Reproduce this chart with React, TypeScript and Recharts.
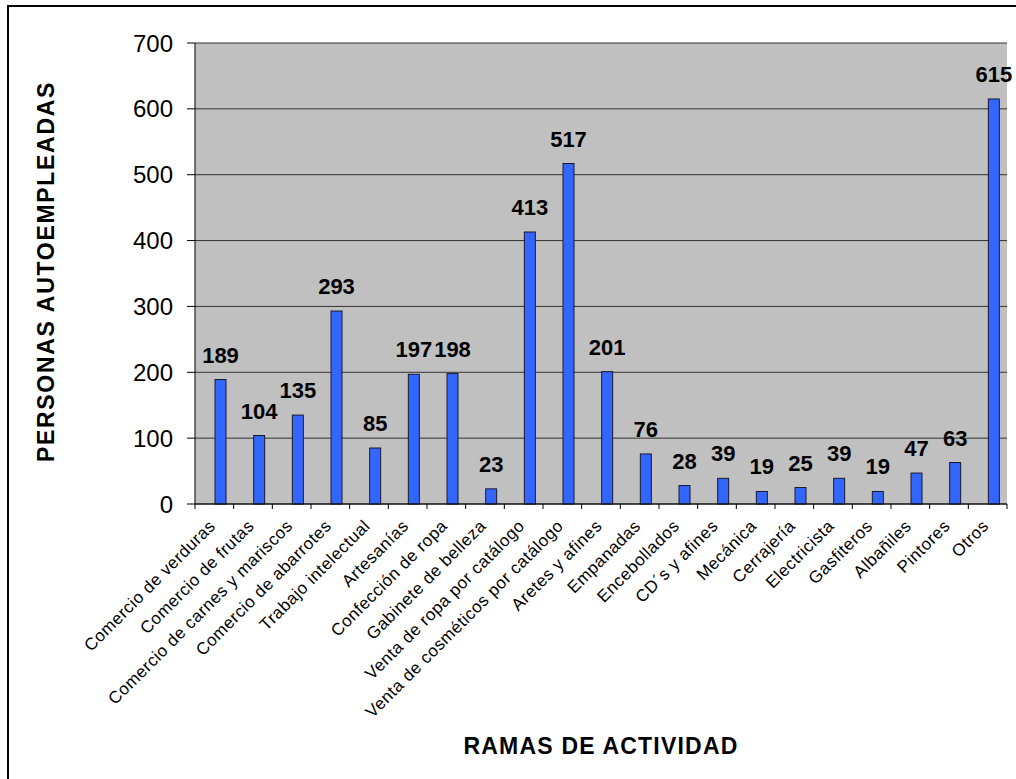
import { BarChart, Bar, XAxis, YAxis, CartesianGrid, LabelList } from 'recharts';

const categories = [
  'Comercio de verduras',
  'Comercio de frutas',
  'Comercio de carnes y mariscos',
  'Comercio de abarrotes',
  'Trabajo intelectual',
  'Artesanías',
  'Confección de ropa',
  'Gabinete de belleza',
  'Venta de ropa por catálogo',
  'Venta de cosméticos por catálogo',
  'Aretes y afines',
  'Empanadas',
  'Encebollados',
  'CD´s y afines',
  'Mecánica',
  'Cerrajería',
  'Electricista',
  'Gasfiteros',
  'Albañiles',
  'Pintores',
  'Otros',
];
const personas = [189, 104, 135, 293, 85, 197, 198, 23, 413, 517, 201, 76, 28, 39, 19, 25, 39, 19, 47, 63, 615];
const yTicks = [0, 100, 200, 300, 400, 500, 600, 700];

const data = categories.map((name, i) => ({ name, value: personas[i] }));

const W = 1016;
const H = 779;
const PLOT_LEFT = 195;
const PLOT_RIGHT = 1007;
const HALF_BAND = (PLOT_RIGHT - PLOT_LEFT) / categories.length / 2;
const BAR_SHIFT = 6;
const FONT = '"Liberation Sans", Arial, sans-serif';

const ShiftedBar = (props: any) => (
  <rect
    x={props.x + BAR_SHIFT}
    y={props.y}
    width={props.width}
    height={props.height}
    fill='#3366FF'
    stroke='#1a1a2e'
    strokeWidth={1}
  />
);

const ValueLabel = (props: any) => (
  <text
    x={props.x + props.width / 2 + BAR_SHIFT}
    y={props.y - 17}
    textAnchor='middle'
    fontSize={22}
    fontWeight='bold'
    fill='#000'
    fontFamily={FONT}
  >
    {props.value}
  </text>
);

const XTick = (props: any) => {
  const { x, y, payload, index } = props;
  const tx = x + 2;
  const ty = y + 23;
  return (
    <g>
      {index === 0 && <line x1={x - HALF_BAND} y1={y} x2={x - HALF_BAND} y2={y + 5} stroke='#000' />}
      <line x1={x + HALF_BAND} y1={y} x2={x + HALF_BAND} y2={y + 5} stroke='#000' />
      <text
        x={tx}
        y={ty}
        transform={`rotate(-45, ${tx}, ${ty})`}
        textAnchor='end'
        fontSize={17}
        letterSpacing={0.5}
        fill='#000'
        fontFamily={FONT}
      >
        {payload.value}
      </text>
    </g>
  );
};

const YTitle = (props: any) => {
  const { y, height } = props.viewBox;
  const cx = 46;
  const cy = y + height / 2 - 2;
  return (
    <text
      x={cx}
      y={cy}
      transform={`rotate(-90, ${cx}, ${cy})`}
      textAnchor='middle'
      dominantBaseline='central'
      fontSize={23}
      fontWeight='bold'
      letterSpacing={1.7}
      fill='#000'
      fontFamily={FONT}
    >
      PERSONAS AUTOEMPLEADAS
    </text>
  );
};

const XTitle = (props: any) => {
  const { x, y, width } = props.viewBox;
  return (
    <text
      x={x + width / 2}
      y={y + 250}
      textAnchor='middle'
      fontSize={23}
      fontWeight='bold'
      letterSpacing={1.2}
      fill='#000'
      fontFamily={FONT}
    >
      RAMAS DE ACTIVIDAD
    </text>
  );
};

export default function App() {
  return (
    <div style={{ position: 'absolute', top: 0, left: 0, width: W, height: H, overflow: 'hidden', background: '#fff' }}>
      <div
        style={{
          position: 'absolute',
          top: 5,
          left: 7,
          width: 1200,
          height: 1000,
          borderTop: '2px solid #000',
          borderLeft: '2px solid #000',
        }}
      />
      <div style={{ position: 'absolute', top: 0, left: 0 }}>
        <BarChart
          width={W}
          height={H}
          data={data}
          margin={{ top: 43, right: W - PLOT_RIGHT, bottom: 0, left: 135 }}
          style={{ fontFamily: FONT }}
        >
          <CartesianGrid vertical={false} fill='#C0C0C0' stroke='#333' />
          <XAxis
            dataKey='name'
            interval={0}
            height={275}
            tickSize={0}
            tickMargin={0}
            tickLine={false}
            axisLine={{ stroke: '#000' }}
            tick={XTick}
            label={{ content: XTitle }}
          />
          <YAxis
            domain={[0, 700]}
            ticks={yTicks}
            width={60}
            tickSize={8}
            tickMargin={14}
            axisLine={{ stroke: '#000' }}
            tickLine={{ stroke: '#000' }}
            tick={{ fontSize: 24, fill: '#000', fontFamily: FONT }}
            label={{ content: YTitle }}
          />
          <YAxis
            yAxisId='right'
            orientation='right'
            domain={[0, 700]}
            width={0}
            tick={false}
            tickLine={false}
            axisLine={{ stroke: '#808080' }}
          />
          <Bar dataKey='value' barSize={11} shape={ShiftedBar} isAnimationActive={false}>
            <LabelList dataKey='value' content={ValueLabel} />
          </Bar>
        </BarChart>
      </div>
    </div>
  );
}
